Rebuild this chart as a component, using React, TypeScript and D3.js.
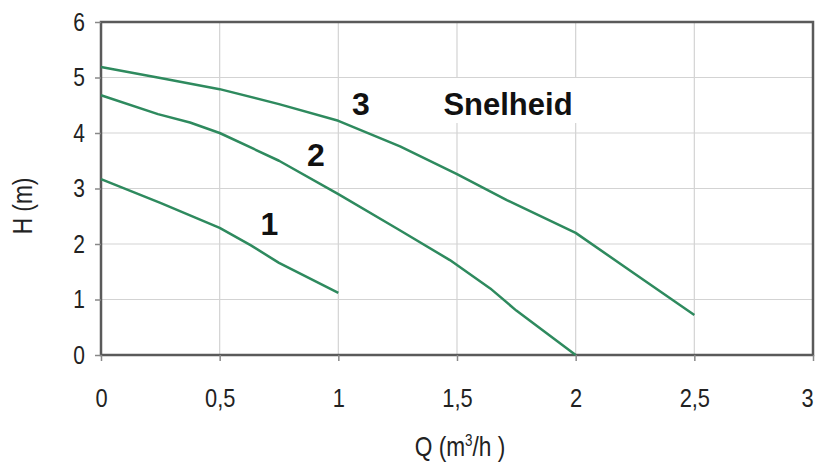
import React, { useEffect, useRef } from "react";
import * as d3 from "d3";

// pump curves, Q in m3/h, H in m
const curve1 = [
  [0, 3.17], [0.25, 2.74], [0.5, 2.29], [0.63, 1.98], [0.75, 1.66], [1, 1.12],
];
const curve2 = [
  [0, 4.68], [0.24, 4.34], [0.375, 4.19], [0.5, 4.0], [0.75, 3.5], [1, 2.9],
  [1.25, 2.27], [1.47, 1.71], [1.64, 1.2], [1.75, 0.8], [2, 0],
];
const curve3 = [
  [0, 5.19], [0.25, 4.99], [0.5, 4.79], [0.75, 4.52], [1, 4.22], [1.26, 3.76],
  [1.5, 3.26], [1.71, 2.79], [2, 2.2], [2.25, 1.46], [2.5, 0.72],
];
const curveLabels = [
  { text: "1", q: 0.71, h: 2.16 },
  { text: "2", q: 0.905, h: 3.4 },
  { text: "3", q: 1.095, h: 4.32 },
];
const xTicks = [0, 0.5, 1, 1.5, 2, 2.5, 3];
const yTicks = [0, 1, 2, 3, 4, 5, 6];

const W = 818;
const H = 465;
const NARROW = 0.84;

const App = () => {
  const svgRef = useRef(null);

  useEffect(() => {
    const svg = d3.select(svgRef.current);
    svg.selectAll("*").remove();

    const x = d3.scaleLinear().domain([0, 3]).range([101, 813]);
    const y = d3.scaleLinear().domain([0, 6]).range([355, 22]);
    const font = "'Liberation Sans', Arial, sans-serif";

    svg.append("rect").attr("width", W).attr("height", H).attr("fill", "#fff");

    // grid
    svg
      .append("g")
      .selectAll("line")
      .data(xTicks.slice(1, -1))
      .enter()
      .append("line")
      .attr("x1", (d) => x(d))
      .attr("x2", (d) => x(d))
      .attr("y1", y(6))
      .attr("y2", y(0))
      .attr("stroke", "#d3d3d3")
      .attr("stroke-width", 1.2);
    svg
      .append("g")
      .selectAll("line")
      .data(yTicks.slice(1, -1))
      .enter()
      .append("line")
      .attr("x1", x(0))
      .attr("x2", x(3))
      .attr("y1", (d) => y(d))
      .attr("y2", (d) => y(d))
      .attr("stroke", "#d3d3d3")
      .attr("stroke-width", 1.2);

    // frame
    svg
      .append("rect")
      .attr("x", x(0))
      .attr("y", y(6))
      .attr("width", x(3) - x(0))
      .attr("height", y(0) - y(6))
      .attr("fill", "none")
      .attr("stroke", "#5a5a5a")
      .attr("stroke-width", 2.5);

    // axes
    const xAxis = svg
      .append("g")
      .attr("transform", `translate(0,${y(0)})`)
      .call(
        d3
          .axisBottom(x)
          .tickValues(xTicks)
          .tickSize(6)
          .tickFormat((d) => String(d).replace(".", ","))
      );
    const yAxis = svg
      .append("g")
      .attr("transform", `translate(${x(0)},0)`)
      .call(d3.axisLeft(y).tickValues(yTicks).tickSize(6).tickFormat(d3.format("d")));
    [xAxis, yAxis].forEach((g) => {
      g.select(".domain").remove();
      g.selectAll(".tick line").attr("stroke", "#888").attr("stroke-width", 1.5);
      g.selectAll(".tick text")
        .attr("fill", "#222")
        .attr("transform", `scale(${NARROW},1)`)
        .style("font-family", font);
    });
    xAxis
      .selectAll(".tick text")
      .attr("x", (d) => (d === 3 ? -6 / NARROW : 0))
      .attr("y", 52)
      .attr("dy", 0)
      .style("font-size", "26px");
    yAxis.selectAll(".tick text").attr("x", -16 / NARROW).style("font-size", "25px");

    // curves
    const line = d3
      .line()
      .x((d) => x(d[0]))
      .y((d) => y(d[1]));
    [curve1, curve2, curve3].forEach((c) => {
      svg
        .append("path")
        .attr("d", line(c))
        .attr("fill", "none")
        .attr("stroke", "#2e8a5e")
        .attr("stroke-width", 2.5)
        .attr("stroke-linejoin", "round");
    });

    // curve labels
    svg
      .selectAll(".clabel")
      .data(curveLabels)
      .enter()
      .append("text")
      .attr("x", (d) => x(d.q))
      .attr("y", (d) => y(d.h))
      .attr("text-anchor", "middle")
      .attr("fill", "#111")
      .style("font-family", font)
      .style("font-weight", "bold")
      .style("font-size", "32px")
      .text((d) => d.text);

    // title with white box
    svg
      .append("rect")
      .attr("x", 433)
      .attr("y", 78)
      .attr("width", 150)
      .attr("height", 45)
      .attr("fill", "#fff");
    svg
      .append("text")
      .attr("x", 508)
      .attr("y", 115)
      .attr("text-anchor", "middle")
      .attr("fill", "#111")
      .style("font-family", font)
      .style("font-weight", "bold")
      .style("font-size", "31px")
      .text("Snelheid");

    // axis titles
    svg
      .append("text")
      .attr("transform", `translate(32,206) rotate(-90) scale(${NARROW},1)`)
      .attr("text-anchor", "middle")
      .attr("fill", "#222")
      .style("font-family", font)
      .style("font-size", "27px")
      .text("H (m)");

    const qt = svg
      .append("text")
      .attr("transform", `translate(460,456) scale(${NARROW},1)`)
      .attr("text-anchor", "middle")
      .attr("fill", "#222")
      .style("font-family", font)
      .style("font-size", "27px");
    qt.append("tspan").text("Q  (m");
    qt.append("tspan").attr("dy", -10).style("font-size", "16px").text("3");
    qt.append("tspan").attr("dy", 10).text("/h )");
  }, []);

  return (
    <svg
      ref={svgRef}
      width={W}
      height={H}
      style={{ position: "absolute", left: 0, top: 0 }}
    />
  );
};

export default App;
